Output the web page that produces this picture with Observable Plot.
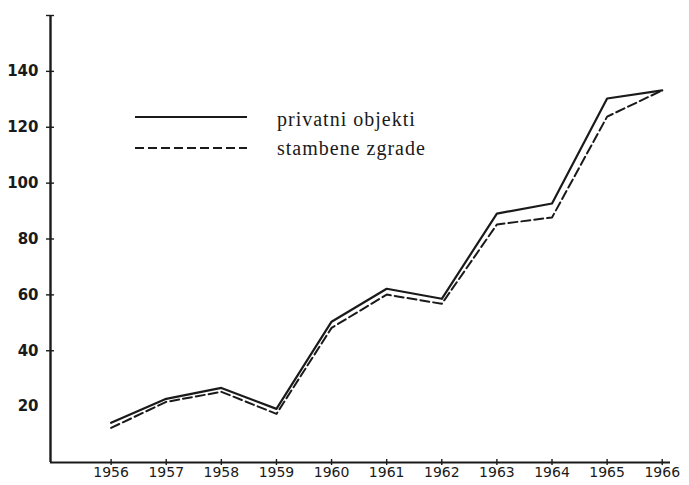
<!DOCTYPE html>
<html>
<head>
<meta charset="utf-8">
<script src="https://cdn.jsdelivr.net/npm/d3@7"></script>
<script src="https://cdn.jsdelivr.net/npm/@observablehq/plot@0.6"></script>
<style>
  html, body { margin: 0; padding: 0; background: #fff; }
  #wrap { position: relative; width: 689px; height: 485px; }
  #legend { position: absolute; left: 0; top: 0; width: 689px; height: 485px; pointer-events: none; }
  #legend text { font-family: "Liberation Serif", "Times New Roman", serif; font-size: 20px; letter-spacing: 1px; fill: #1a1a1a; }
</style>
</head>
<body>
<div id="wrap">
  <svg id="legend" width="689" height="485">
    <line x1="135" x2="247" y1="117" y2="117" stroke="#1a1a1a" stroke-width="2.2"/>
    <text x="277" y="126">privatni objekti</text>
    <line x1="135" x2="247" y1="148" y2="148" stroke="#1a1a1a" stroke-width="2.2" stroke-dasharray="9,4"/>
    <text x="277" y="155">stambene zgrade</text>
  </svg>
</div>
<script>
const years = [1956, 1957, 1958, 1959, 1960, 1961, 1962, 1963, 1964, 1965, 1966];
const privatniObjekti = [14.2, 22.8, 26.7, 19.2, 50.4, 62.2, 58.6, 89.1, 92.7, 130.3, 133.2];
const stambeneZgrade = [12.4, 21.7, 25.3, 17.4, 48.2, 60.1, 56.8, 85.2, 87.7, 123.8, 133.2];
const yTickValues = [20, 40, 60, 80, 100, 120, 140];
const yMarks = [40, 60, 80, 100, 120, 140, 160];

const rows = years.map((year, i) => ({year, privatni: privatniObjekti[i], stambene: stambeneZgrade[i]}));
const xDomain = [1954.9, 1966.15];
const yDomain = [0, 160];

const chart = Plot.plot({
  width: 689,
  height: 485,
  marginLeft: 50,
  marginRight: 19,
  marginTop: 15,
  marginBottom: 23,
  style: {fontFamily: "DejaVu Sans, sans-serif", fontSize: "14px", color: "#1a1a1a", background: "#fff"},
  x: {domain: xDomain, label: null},
  y: {domain: yDomain, label: null},
  marks: [
    Plot.ruleX([xDomain[0]], {stroke: "#1a1a1a", strokeWidth: 2.4}),
    Plot.ruleY([yDomain[0]], {stroke: "#1a1a1a", strokeWidth: 2.2}),
    Plot.axisY(yTickValues, {anchor: "left", tickSize: 0, tickPadding: 12, fontSize: 15, fontWeight: "bold", tickFormat: d => String(d), label: null}),
    Plot.axisY(yMarks, {anchor: "left", tickSize: 4, tickFormat: () => "", label: null, strokeWidth: 1.4}),
    Plot.axisY(yMarks, {anchor: "left", tickSize: -4, tickFormat: () => "", label: null, strokeWidth: 1.4}),
    Plot.axisX(years, {anchor: "bottom", tickSize: 3, tickPadding: 2, fontSize: 14, tickFormat: d => String(d), label: null, strokeWidth: 1.4}),
    Plot.axisX(years, {anchor: "bottom", tickSize: -3, tickFormat: () => "", label: null, strokeWidth: 1.4}),
    Plot.line(rows, {x: "year", y: "stambene", stroke: "#1a1a1a", strokeWidth: 2, strokeDasharray: "9,4"}),
    Plot.line(rows, {x: "year", y: "privatni", stroke: "#1a1a1a", strokeWidth: 2.2})
  ]
});
document.getElementById("wrap").prepend(chart);
chart.style.position = "absolute";
chart.style.left = "0";
chart.style.top = "0";
</script>
</body>
</html>
